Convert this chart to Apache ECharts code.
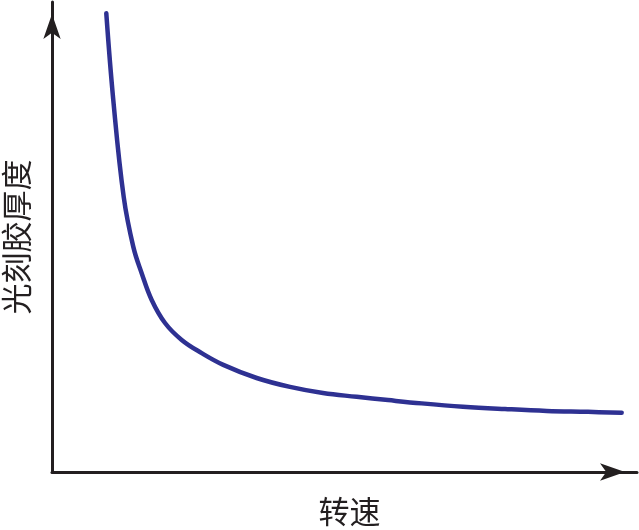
<!DOCTYPE html>
<html>
<head>
<meta charset="utf-8">
<script src="https://cdn.jsdelivr.net/npm/echarts@6/dist/echarts.min.js"></script>
<style>html,body{margin:0;padding:0;background:#fff;}#c{width:639px;height:530px;}</style>
</head>
<body>
<div id="c"></div>
<script>
const xName = '转速';
const yName = '光刻胶厚度';
const speed = [9.28, 10.48, 12.26, 13.90, 15.33, 17.04, 19.32, 22.17, 25.59, 29.28, 34.99, 40.68, 46.32, 52.09, 57.44, 63.20, 70.26, 77.44, 84.56, 91.62, 97.38];
const thickness = [97.6, 79.1, 58.5, 47.9, 42.3, 36.6, 31.7, 28.1, 25.3, 22.8, 20.0, 18.1, 16.8, 16.0, 15.3, 14.6, 13.9, 13.4, 13.0, 12.8, 12.6];

const chart = echarts.init(document.getElementById('c'));
const font = '"Noto Sans CJK SC", "Noto Sans", sans-serif';
const axisLine = {
  show: true,
  symbol: ['none', 'arrow'],
  symbolSize: [13, 25],
  symbolOffset: [0, -12],
  lineStyle: { color: '#231f20', width: 3 }
};
chart.setOption({
  animation: false,
  grid: { left: 52, right: 2, top: 2, bottom: 58, outerBoundsMode: 'none', containLabel: false },
  xAxis: {
    type: 'value', min: 0, max: 100,
    name: xName, nameLocation: 'middle', nameGap: 24,
    nameTextStyle: { fontSize: 31, color: '#231f20', fontFamily: font, padding: [0, 0, 0, 10] },
    axisLine: axisLine,
    axisTick: { show: false }, axisLabel: { show: false }, splitLine: { show: false }
  },
  yAxis: {
    type: 'value', min: 0, max: 100,
    name: yName, nameLocation: 'middle', nameGap: 20,
    nameTextStyle: { fontSize: 31, color: '#231f20', fontFamily: font },
    axisLine: axisLine,
    axisTick: { show: false }, axisLabel: { show: false }, splitLine: { show: false }
  },
  series: [{
    type: 'line',
    data: speed.map((s, i) => [s, thickness[i]]),
    smooth: 0.4,
    showSymbol: false,
    lineStyle: { color: '#2e3192', width: 4.5, cap: 'round', join: 'round' }
  }]
});
</script>
</body>
</html>
